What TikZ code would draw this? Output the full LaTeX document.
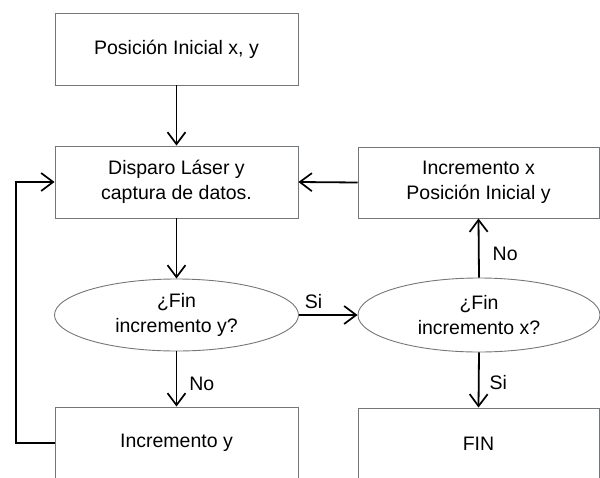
\documentclass[tikz,border=0pt]{standalone}
\usepackage{fontspec}
\setmainfont{Liberation Sans}
\usetikzlibrary{arrows.meta,shapes.geometric}
\begin{document}
\begin{tikzpicture}[x=1pt,y=-1pt,
  font=\fontsize{19.5}{25}\selectfont,
  boxst/.style={draw=black!70!cyan!40!gray, line width=0.9pt, rectangle, minimum width=243pt, minimum height=72pt, align=center, inner sep=0pt},
  ellst/.style={draw=black!70!cyan!40!gray, line width=0.9pt, ellipse, minimum width=243pt, minimum height=72pt, align=center, inner sep=0pt},
  arr/.style={draw=black, line width=1.8pt, -{Straight Barb[length=12pt,width=18pt,line width=1.7pt]}},
  lbl/.style={inner sep=0pt}]
\useasboundingbox (0,0) rectangle (600,477);
\clip (0,0) rectangle (600,477);
\node[boxst] (b1) at (176.5,49) {Posición Inicial x, y};
\node[boxst] (b2) at (176.5,182) {Disparo Láser y\\captura de datos.};
\node[boxst, minimum width=241pt, minimum height=71pt] (b3) at (478.5,182.5) {Incremento x\\Posición Inicial y};
\node[ellst, minimum width=244pt] (e1) at (176.5,315) {¿Fin\\incremento y?};
\node[ellst, minimum width=242pt, minimum height=74pt] (e2) at (479,315) {¿Fin\\incremento x?};
\node[boxst] (b4) at (176.5,443) {Incremento y};
\node[boxst, minimum width=241pt] (b5) at (478.5,444) {FIN};
\draw[arr] (b1.south) -- (b2.north);
\draw[arr] (b2.south) -- (e1.north);
\draw[arr] (e1.south) -- node[lbl, right=12pt, pos=0.58] (n1) {No} (b4.north);
\draw[arr] (e1.east) -- node[lbl, above=5pt, pos=0.25] (s1) {Si} (e2.west);
\draw[arr] (e2.north) -- node[lbl, right=13pt, pos=0.4] (n2) {No} (b3.south);
\draw[arr] (e2.south) -- node[lbl, right=10pt, pos=0.55] (s2) {Si} (b5.north);
\draw[arr] (b3.west) -- (b2.east);
\coordinate (lp) at (16,443);
\draw[arr] (b4.west) -- (lp) |- (b2.west);
\end{tikzpicture}
\end{document}
